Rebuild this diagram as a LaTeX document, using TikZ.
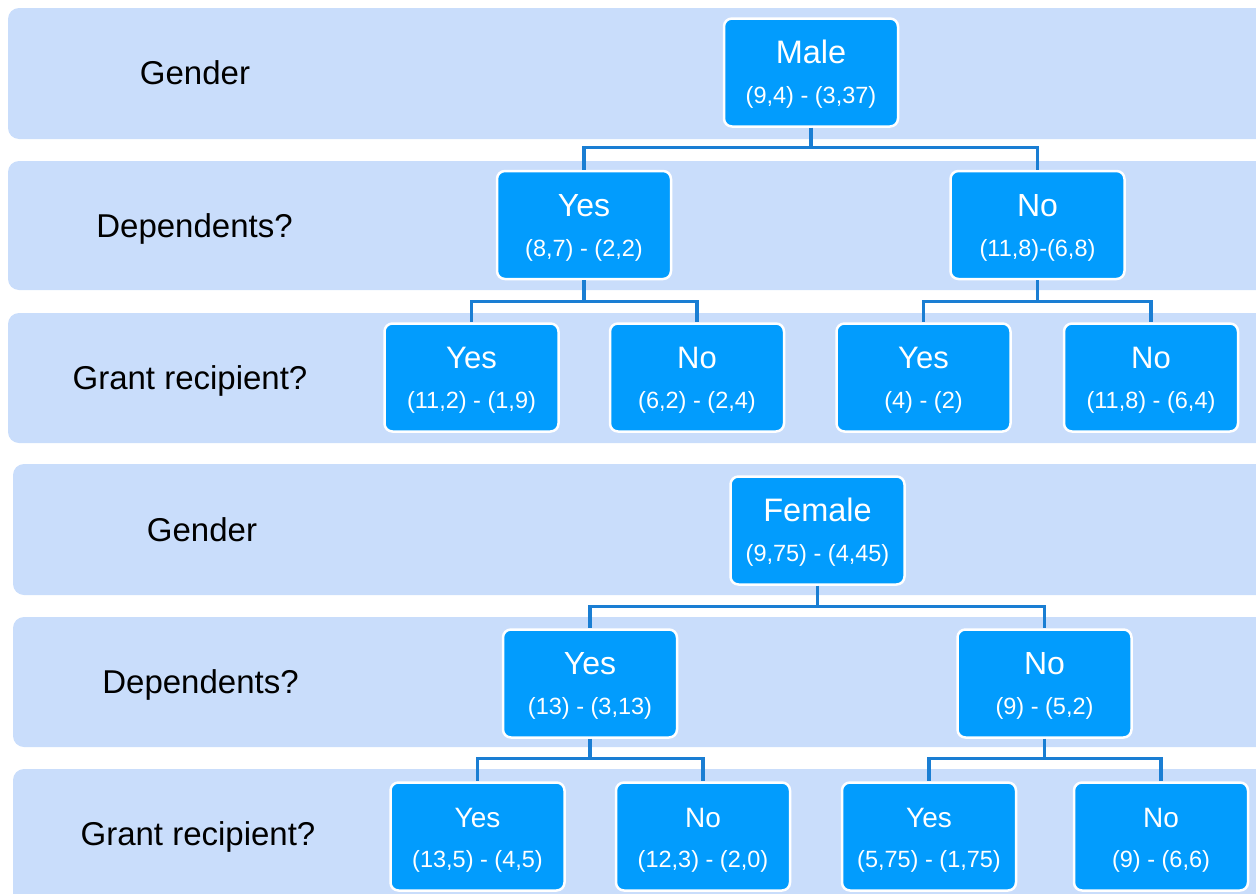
\documentclass[tikz,border=0pt]{standalone}
\usepackage{fontspec}
\setmainfont{Liberation Sans}
\definecolor{bandc}{HTML}{C9DDFB}
\definecolor{nodeblue}{HTML}{029CFD}
\definecolor{connc}{HTML}{1A7ED3}
\newcommand{\treebox}[6]{%
  \node[tbox] (#1) at (#2,#3) {};
  \node[ttl,font=\fontsize{#6}{#6}\selectfont] (#1t) at ([yshift=9pt]#1.center) {#4};
  \node[subl] (#1s) at ([yshift=-31pt]#1.center) {#5};
}
\begin{document}
\begin{tikzpicture}[x=1pt,y=-1pt,
  bandbox/.style={fill=bandc,draw=none,rounded corners=11pt},
  tbox/.style={draw=white,line width=2.5pt,fill=nodeblue,rounded corners=8pt,
     minimum width=174pt,minimum height=108pt,inner sep=0pt},
  ttl/.style={text=white,anchor=base,inner sep=0pt},
  subl/.style={text=white,anchor=base,inner sep=0pt,font=\fontsize{23.5}{23.5}\selectfont},
  rowlabel/.style={text=black,anchor=base,inner sep=0pt,font=\fontsize{33}{33}\selectfont},
  connl/.style={draw=connc,line width=3.4pt}]
\useasboundingbox (0,0) rectangle (1256,894);
\clip (0,0) rectangle (1256,894);
% bands
\path[bandbox] (8,8) rectangle (1280,139);
\path[bandbox] (8,161) rectangle (1280,290);
\path[bandbox] (8,313) rectangle (1280,443);
\path[bandbox] (13,464) rectangle (1280,595);
\path[bandbox] (13,617) rectangle (1280,747);
\path[bandbox] (13,769) rectangle (1280,910);
% row labels
\node[rowlabel] (l1) at (195,84) {Gender};
\node[rowlabel] (l2) at (194.5,237) {Dependents?};
\node[rowlabel] (l3) at (190,389) {Grant recipient?};
\node[rowlabel] (l4) at (202,541) {Gender};
\node[rowlabel] (l5) at (200.5,693) {Dependents?};
\node[rowlabel] (l6) at (198,845) {Grant recipient?};
% male tree
\treebox{m}{811}{72.5}{Male}{(9,4) - (3,37)}{32.5}
\treebox{dy}{584}{225}{Yes}{(8,7) - (2,2)}{32}
\treebox{dn}{1037.5}{225}{No}{(11,8)-(6,8)}{32}
\treebox{gyy}{471.5}{377.5}{Yes}{(11,2) - (1,9)}{31}
\treebox{gyn}{697}{377.5}{No}{(6,2) - (2,4)}{31}
\treebox{gny}{923.5}{377.5}{Yes}{(4) - (2)}{31}
\treebox{gnn}{1151}{377.5}{No}{(11,8) - (6,4)}{31}
% female tree
\treebox{f}{817.5}{530.5}{Female}{(9,75) - (4,45)}{32.5}
\treebox{fy}{590}{683.5}{Yes}{(13) - (3,13)}{32}
\treebox{fn}{1044.5}{683.5}{No}{(9) - (5,2)}{32}
\treebox{fyy}{477.5}{836.5}{Yes}{(13,5) - (4,5)}{28}
\treebox{fyn}{703}{836.5}{No}{(12,3) - (2,0)}{28}
\treebox{fny}{929}{836.5}{Yes}{(5,75) - (1,75)}{28}
\treebox{fnn}{1161}{836.5}{No}{(9) - (6,6)}{28}
% connectors
\draw[connl] (m.south) -- ++(0,20) -| (dy.north);
\draw[connl] (m.south) -- ++(0,20) -| (dn.north);
\draw[connl] (dy.south) -- ++(0,21) -| (gyy.north);
\draw[connl] (dy.south) -- ++(0,21) -| (gyn.north);
\draw[connl] (dn.south) -- ++(0,21) -| (gny.north);
\draw[connl] (dn.south) -- ++(0,21) -| (gnn.north);
\draw[connl] (f.south) -- ++(0,21) -| (fy.north);
\draw[connl] (f.south) -- ++(0,21) -| (fn.north);
\draw[connl] (fy.south) -- ++(0,20) -| (fyy.north);
\draw[connl] (fy.south) -- ++(0,20) -| (fyn.north);
\draw[connl] (fn.south) -- ++(0,20) -| (fny.north);
\draw[connl] (fn.south) -- ++(0,20) -| (fnn.north);
\end{tikzpicture}
\end{document}
